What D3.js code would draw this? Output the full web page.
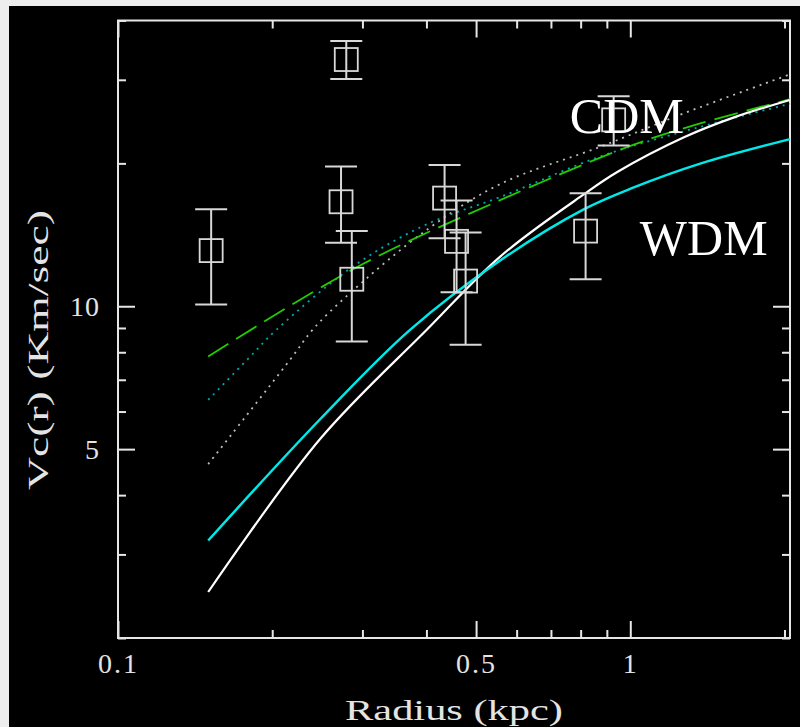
<!DOCTYPE html>
<html><head><meta charset="utf-8">
<script src="https://cdn.jsdelivr.net/npm/d3@7"></script>
<style>
html,body{margin:0;padding:0;background:#eeeeee;}
svg{display:block;}
</style></head>
<body>
<svg id="chart" width="800" height="727"></svg>
<script>
// ---- data ----
const xTicksMajor = [0.1, 0.5, 1];
const xTicksMinor = [0.2, 0.3, 0.4, 0.6, 0.7, 0.8, 0.9, 2];
const yTicksMajor = [5, 10];
const yTicksMinor = [2, 3, 4, 6, 7, 8, 9, 20, 30, 40];

const obsR  = [0.152, 0.279, 0.2725, 0.286, 0.434, 0.458, 0.477, 0.818, 0.928];
const obsV  = [13.1, 33.1, 16.6, 11.4, 16.9, 13.7, 11.3, 14.4, 24.7];
const obsHi = [16.0, 36.2, 19.7, 14.4, 19.85, 16.7, 14.3, 17.3, 27.7];
const obsLo = [10.08, 30.1, 13.6, 8.43, 13.9, 10.7, 8.3, 11.4, 21.8];

const cdmR = [0.150, 0.248, 0.401, 0.558, 0.811, 0.945, 1.273, 1.594, 2.05];
const cdmV = [2.50, 5.25, 8.93, 12.74, 17.2, 19.2, 22.7, 25.0, 27.2];
const wdmR = [0.150, 0.248, 0.372, 0.558, 0.811, 1.016, 1.374, 2.05];
const wdmV = [3.21, 5.78, 8.93, 12.5, 16.0, 17.8, 20.0, 22.5];
const dashR = [0.150, 0.293, 0.541, 1.016, 1.374, 2.05];
const dashV = [7.84, 12.1, 16.5, 21.9, 24.3, 27.3];
const cyanDotR = [0.150, 0.179, 0.204, 0.293, 0.407, 0.558, 0.876, 1.374, 2.05];
const cyanDotV = [6.35, 7.73, 8.93, 12.3, 15.0, 17.0, 20.7, 23.9, 26.7];
const whiteDotR = [0.150, 0.217, 0.240, 0.284, 0.401, 0.558, 0.876, 1.273, 2.05];
const whiteDotV = [4.65, 7.73, 8.93, 10.67, 14.5, 18.1, 21.7, 25.5, 30.8];

const xLabel = "Radius (kpc)";
const yLabel = "Vc(r)  (Km/sec)";
const labelText = ["CDM", "WDM"];
const labelR = [0.762, 1.044];
const labelV = [23.2, 12.8];

// ---- layout ----
const svg = d3.select("#chart");
svg.append("rect").attr("x",9).attr("y",6).attr("width",791).attr("height",721).attr("fill","#000");

const L = 118, R = 790, T = 20.5, B = 638;
const x = d3.scaleLog().domain([0.1, 2.05]).range([L, R]);
const y = d3.scaleLog().domain([2, 40]).range([B, T]);

const frameCol = "#e6e6e6";
const textCol = "#e4e4e4";
const serif = "'Liberation Serif','Times New Roman',serif";

function styleAxis(g){
  g.select(".domain").remove();
  g.selectAll(".tick line").attr("stroke", frameCol).attr("stroke-width", 2);
}
// minor ticks
svg.append("g").attr("transform",`translate(0,${B})`).call(d3.axisBottom(x).tickValues(xTicksMinor).tickSize(-8).tickFormat("")).call(styleAxis);
svg.append("g").attr("transform",`translate(0,${T})`).call(d3.axisTop(x).tickValues(xTicksMinor).tickSize(-8).tickFormat("")).call(styleAxis);
svg.append("g").attr("transform",`translate(${L},0)`).call(d3.axisLeft(y).tickValues(yTicksMinor).tickSize(-8).tickFormat("")).call(styleAxis);
svg.append("g").attr("transform",`translate(${R},0)`).call(d3.axisRight(y).tickValues(yTicksMinor).tickSize(-8).tickFormat("")).call(styleAxis);
// major ticks
const gxb = svg.append("g").attr("transform",`translate(0,${B})`).call(d3.axisBottom(x).tickValues(xTicksMajor).tickSize(-17).tickFormat(d3.format("~g"))).call(styleAxis);
svg.append("g").attr("transform",`translate(0,${T})`).call(d3.axisTop(x).tickValues(xTicksMajor).tickSize(-17).tickFormat("")).call(styleAxis);
const gyl = svg.append("g").attr("transform",`translate(${L},0)`).call(d3.axisLeft(y).tickValues(yTicksMajor).tickSize(-17).tickFormat(d3.format("~g"))).call(styleAxis);
svg.append("g").attr("transform",`translate(${R},0)`).call(d3.axisRight(y).tickValues(yTicksMajor).tickSize(-17).tickFormat("")).call(styleAxis);

gxb.selectAll(".tick text").attr("y", 35).attr("dy", 0).attr("fill", textCol)
  .attr("font-family", serif).attr("font-size", 28).attr("letter-spacing", 2);
gyl.selectAll(".tick text").attr("x", -18).attr("dy", "0.33em").attr("fill", textCol)
  .attr("font-family", serif).attr("font-size", 28).attr("letter-spacing", 1);

// frame
svg.append("rect").attr("x",L).attr("y",T).attr("width",R-L).attr("height",B-T)
  .attr("fill","none").attr("stroke",frameCol).attr("stroke-width",2);

// axis titles
svg.append("text").attr("x", 345).attr("y", 720).attr("fill",textCol)
  .attr("font-family", serif).attr("font-size", 30)
  .attr("textLength", 218).attr("lengthAdjust","spacingAndGlyphs").text(xLabel);
svg.append("text").attr("transform","translate(48,490) rotate(-90)").attr("fill",textCol)
  .attr("font-family", serif).attr("font-size", 30)
  .attr("textLength", 280).attr("lengthAdjust","spacingAndGlyphs").text(yLabel);

// curves
const line = d3.line().x(d=>x(d[0])).y(d=>y(d[1])).curve(d3.curveCatmullRom.alpha(0.5));
const zip = (a,b)=>a.map((v,i)=>[v,b[i]]);
const plot = svg.append("g");
plot.append("path").attr("d", line(zip(whiteDotR, whiteDotV))).attr("fill","none")
  .attr("stroke","#bbbbbb").attr("stroke-width",1.8).attr("stroke-dasharray","2,5");
plot.append("path").attr("d", line(zip(cyanDotR, cyanDotV))).attr("fill","none")
  .attr("stroke","#00aaaa").attr("stroke-width",1.8).attr("stroke-dasharray","2,5");
plot.append("path").attr("d", line(zip(dashR, dashV))).attr("fill","none")
  .attr("stroke","#22cc00").attr("stroke-width",1.8).attr("stroke-dasharray","24,9");
plot.append("path").attr("d", line(zip(cdmR, cdmV))).attr("fill","none")
  .attr("stroke","#ffffff").attr("stroke-width",2.2);
plot.append("path").attr("d", line(zip(wdmR, wdmV))).attr("fill","none")
  .attr("stroke","#00e8e8").attr("stroke-width",2.5);

// observations
const obs = obsR.map((r,i)=>({r, v:obsV[i], hi:obsHi[i], lo:obsLo[i]}));
const og = plot.selectAll("g.obs").data(obs).join("g").attr("class","obs");
const bc = "#d8d8d8";
og.append("line").attr("x1",d=>x(d.r)).attr("x2",d=>x(d.r)).attr("y1",d=>y(d.hi)).attr("y2",d=>y(d.lo))
  .attr("stroke",bc).attr("stroke-width",2);
og.append("line").attr("x1",d=>x(d.r)-16).attr("x2",d=>x(d.r)+16).attr("y1",d=>y(d.hi)).attr("y2",d=>y(d.hi))
  .attr("stroke",bc).attr("stroke-width",2);
og.append("line").attr("x1",d=>x(d.r)-16).attr("x2",d=>x(d.r)+16).attr("y1",d=>y(d.lo)).attr("y2",d=>y(d.lo))
  .attr("stroke",bc).attr("stroke-width",2);
og.append("rect").attr("x",d=>x(d.r)-11.5).attr("y",d=>y(d.v)-11.5).attr("width",23).attr("height",23)
  .attr("fill","none").attr("stroke",bc).attr("stroke-width",1.8);

// model labels
svg.selectAll("text.lab").data(labelText).join("text").attr("class","lab")
  .attr("x", (d,i)=>x(labelR[i])).attr("y", (d,i)=>y(labelV[i])).attr("fill","#ffffff")
  .attr("font-family", serif).attr("font-size", 50).text(d=>d);
</script>
</body></html>
